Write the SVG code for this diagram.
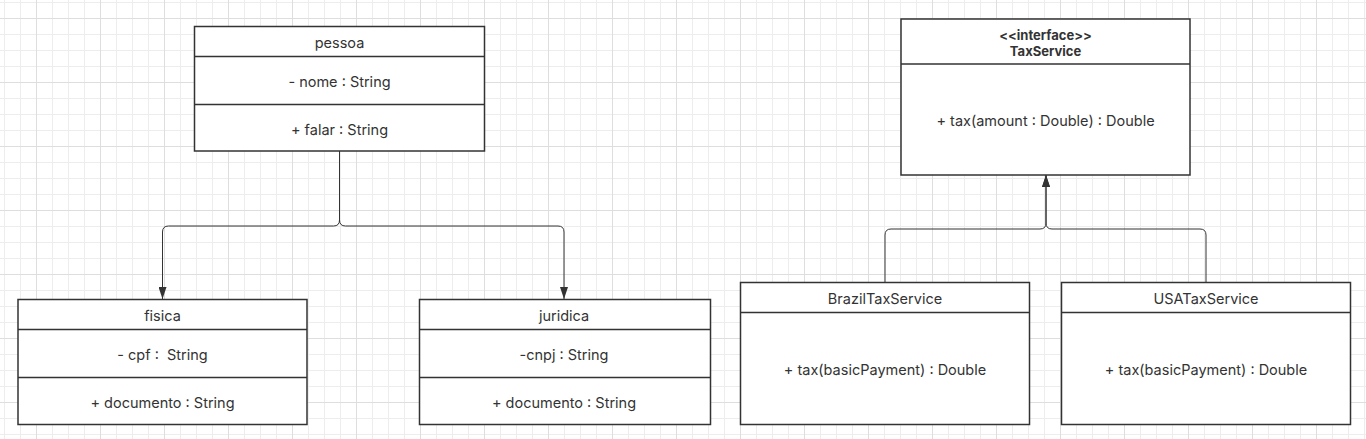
<svg xmlns="http://www.w3.org/2000/svg" width="1366" height="439" viewBox="0 0 1366 439">
<style>
.box{fill:#ffffff;stroke:#333333;stroke-width:1.5}
.div{stroke:#333333;stroke-width:1.5;fill:none}
.t{font-family:Inter,"Noto Sans","Liberation Sans",sans-serif;font-size:14.5px;fill:#333333;text-anchor:middle;dominant-baseline:central}
.b{font-weight:bold;font-size:13px}
.edge{fill:none;stroke:#333333;stroke-width:1}
</style>
<defs>
<pattern id="grid" patternUnits="userSpaceOnUse" x="36" y="18" width="64" height="64">
<path d="M16.5 0V64M32.5 0V64M48.5 0V64M0 16.5H64M0 32.5H64M0 48.5H64" stroke="#ededed" stroke-width="1" fill="none"/>
<path d="M0.5 0V64M0 0.5H64" stroke="#dedede" stroke-width="1" fill="none"/>
</pattern>
<marker id="arrow" viewBox="0 0 12 8" refX="12" refY="4" markerWidth="12" markerHeight="8" markerUnits="userSpaceOnUse" orient="auto">
<path d="M0 0L12 4L0 8z" fill="#333333"/>
</marker>
</defs>
<rect x="0" y="0" width="1366" height="439" fill="#ffffff"/>
<rect x="0" y="0" width="1366" height="439" fill="url(#grid)"/>

<g id="connectors">
<path class="edge" d="M339.5 151V220Q339.5 226 333.5 226H168.5Q162.5 226 162.5 232V299" marker-end="url(#arrow)"/>
<path class="edge" d="M339.5 151V220Q339.5 226 345.5 226H558Q564 226 564 232V299" marker-end="url(#arrow)"/>
<path class="edge" d="M885 282V235Q885 229 891 229H1040Q1046 229 1046 223V175" marker-end="url(#arrow)"/>
<path class="edge" d="M1206 282V235Q1206 229 1200 229H1052Q1046 229 1046 223V175" marker-end="url(#arrow)"/>
</g>

<g id="pessoa">
<rect class="box" x="194.5" y="26.5" width="290" height="124.5"/>
<path class="div" d="M194.5 56.5H484.5M194.5 104.5H484.5"/>
<text class="t" x="339.5" y="42">pessoa</text>
<text class="t" x="339.5" y="81.5">- nome : String</text>
<text class="t" x="339.5" y="129">+ falar : String</text>
</g>

<g id="fisica">
<rect class="box" x="18" y="299.5" width="289" height="125"/>
<path class="div" d="M18 329.5H307M18 377.5H307"/>
<text class="t" x="162.5" y="315.5">fisica</text>
<text class="t" x="162.5" y="354.5" xml:space="preserve">- cpf :  String</text>
<text class="t" x="162.5" y="402">+ documento : String</text>
</g>

<g id="juridica">
<rect class="box" x="419.5" y="299.5" width="291" height="125"/>
<path class="div" d="M419.5 329.5H710.5M419.5 377.5H710.5"/>
<text class="t" x="564" y="315.5">juridica</text>
<text class="t" x="564" y="354.5">-cnpj : String</text>
<text class="t" x="564" y="402">+ documento : String</text>
</g>

<g id="TaxService">
<rect class="box" x="901" y="19" width="289" height="156"/>
<path class="div" d="M901 64H1190"/>
<text class="t b" x="1045.5" y="34.5">&lt;&lt;interface&gt;&gt;</text>
<text class="t b" x="1045.5" y="50.5">TaxService</text>
<text class="t" x="1045.5" y="120.5">+ tax(amount : Double) : Double</text>
</g>

<g id="BrazilTaxService">
<rect class="box" x="740.5" y="282.5" width="289" height="142"/>
<path class="div" d="M740.5 312.5H1029.5"/>
<text class="t" x="885" y="298.5">BrazilTaxService</text>
<text class="t" x="885" y="369.5">+ tax(basicPayment) : Double</text>
</g>

<g id="USATaxService">
<rect class="box" x="1061.5" y="282.5" width="289" height="142"/>
<path class="div" d="M1061.5 312.5H1350.5"/>
<text class="t" x="1206" y="298.5">USATaxService</text>
<text class="t" x="1206" y="369.5">+ tax(basicPayment) : Double</text>
</g>
</svg>
